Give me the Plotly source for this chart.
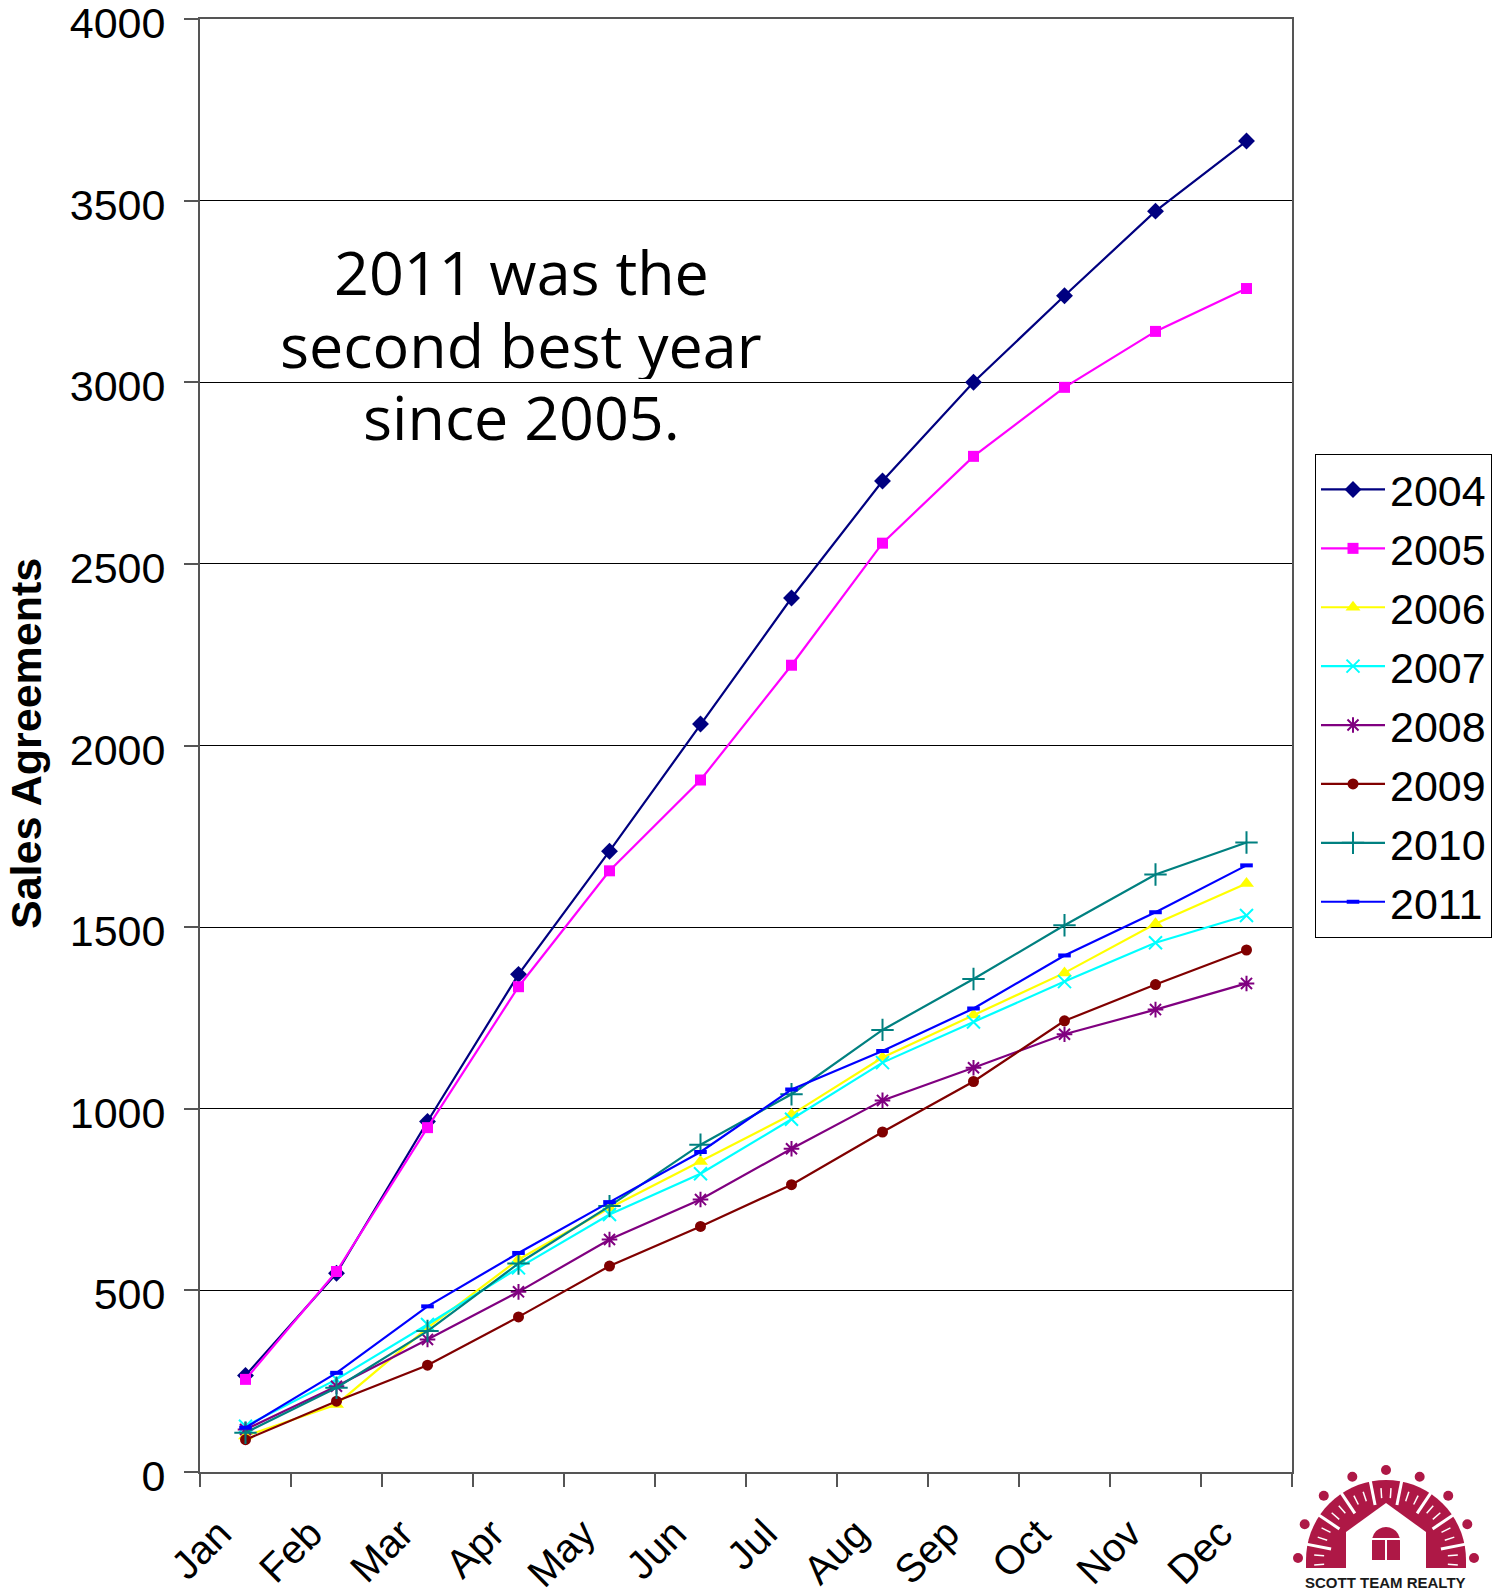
import math
import plotly.graph_objects as go

# ---------------- data ----------------
months = ["Jan", "Feb", "Mar", "Apr", "May", "Jun", "Jul", "Aug", "Sep", "Oct", "Nov", "Dec"]

years = ["2004", "2005", "2006", "2007", "2008", "2009", "2010", "2011"]

s2004 = [266, 547, 965, 1370, 1709, 2059, 2406, 2728, 3000, 3238, 3471, 3664]
s2005 = [255, 552, 948, 1336, 1655, 1905, 2221, 2557, 2796, 2986, 3140, 3258]
s2006 = [99, 186, 397, 585, 727, 855, 984, 1141, 1258, 1374, 1509, 1620]
s2007 = [126, 255, 406, 562, 709, 821, 971, 1127, 1239, 1350, 1457, 1532]
s2008 = [117, 236, 365, 496, 640, 750, 890, 1023, 1113, 1205, 1273, 1345]
s2009 = [89, 195, 294, 427, 567, 676, 791, 936, 1075, 1242, 1342, 1437]
s2010 = [108, 232, 388, 574, 732, 901, 1040, 1217, 1357, 1505, 1645, 1733]
s2011 = [122, 273, 456, 603, 743, 881, 1053, 1159, 1276, 1422, 1541, 1670]

y_ticks = [0, 500, 1000, 1500, 2000, 2500, 3000, 3500, 4000]

annotation_lines = ["2011 was the", "second best year", "since 2005."]
y_title = "Sales Agreements"
logo_text = "SCOTT TEAM REALTY"

# ---------------- styles ----------------
series = [
    (s2004, "#000080", dict(symbol="diamond", size=13)),
    (s2005, "#FF00FF", dict(symbol="square", size=11)),
    (s2006, "#FFFF00", dict(symbol="triangle-up", size=13)),
    (s2007, "#00FFFF", dict(symbol="x-thin-open", size=13, line=dict(width=2, color="#00FFFF"))),
    (s2008, "#800080", dict(symbol="asterisk-open", size=13, line=dict(width=2, color="#800080"))),
    (s2009, "#800000", dict(symbol="circle", size=11)),
    (s2010, "#008080", dict(symbol="cross-thin-open", size=16, line=dict(width=2, color="#008080"))),
    (s2011, "#0000FF", dict(symbol="line-ew-open", size=9, line=dict(width=4, color="#0000FF"))),
]

W, H = 1507, 1595
ML, MR, MT, MB = 200, 215, 19, 123
PW = W - ML - MR
PH = H - MT - MB


def px2paper(x, y):
    return (x - ML) / PW, (H - MB - y) / PH


fig = go.Figure()
for (vals, color, mk), name in zip(series, years):
    m = dict(color=color)
    m.update(mk)
    fig.add_trace(go.Scatter(
        x=months, y=vals, name=name, mode="lines+markers",
        line=dict(color=color, width=2.2), marker=m, legendgroup=name,
    ))

axis_font = dict(family="Liberation Sans, Arial, sans-serif", size=43, color="black")
xfont = dict(family="Liberation Sans, Arial, sans-serif", size=40, color="black")

fig.update_layout(
    template="none",
    width=W, height=H, autosize=False,
    margin=dict(l=ML, r=MR, t=MT, b=MB, pad=0),
    paper_bgcolor="white", plot_bgcolor="white",
    showlegend=True,
    legend=dict(
        x=px2paper(1315, 0)[0], y=px2paper(0, 454)[1], xanchor="left", yanchor="top",
        bordercolor="black", borderwidth=1, bgcolor="white",
        font=axis_font, tracegroupgap=0, itemwidth=64,
    ),
    xaxis=dict(
        type="category", categoryorder="array", categoryarray=months, automargin=False,
        tickson="boundaries", ticks="outside", ticklen=13, tickcolor="#555", tickwidth=1.5,
        showline=True, linecolor="#555", linewidth=2, mirror=True,
        showgrid=False, zeroline=False, tickangle=-45, tickfont=xfont,
        ticklabelstandoff=20, ticklabelshift=-26, ticklabeloverflow="allow",
        range=[-0.5, 11.5],
    ),
    yaxis=dict(
        range=[0, 4000], tickvals=y_ticks, ticks="outside", ticklen=14, tickcolor="#555", tickwidth=1.5,
        showline=True, linecolor="#555", linewidth=2, mirror=True, automargin=False,
        showgrid=True, gridcolor="black", gridwidth=1.2, zeroline=False,
        tickfont=axis_font, ticklabelstandoff=10, ticklabelshift=4, ticklabeloverflow="allow",
    ),
)

# y axis title
tx, ty = px2paper(26, 744)
fig.add_annotation(
    text=y_title, xref="paper", yref="paper", x=tx, y=ty, textangle=-90,
    showarrow=False, xanchor="center", yanchor="middle",
    font=dict(family="Liberation Sans, Arial, sans-serif", size=43, color="black", weight="bold"),
)

# callout text, one line per annotation to match line spacing
for line, cy in zip(annotation_lines, [271, 344, 416]):
    ax, ay = px2paper(521, cy)
    fig.add_annotation(
        text=line, xref="paper", yref="paper", x=ax, y=ay, height=70, valign="middle",
        showarrow=False, xanchor="center", yanchor="middle", align="center",
        font=dict(family="Open Sans, sans-serif", size=61, color="black", weight=500),
    )

# ---------------- logo (decorative shapes) ----------------
CRIMSON = "#AE1846"
lx, ly = px2paper(1386, 1560)


def lshape(**kw):
    base = dict(xref="paper", yref="paper", xsizemode="pixel", ysizemode="pixel",
                xanchor=lx, yanchor=ly, layer="above")
    base.update(kw)
    fig.add_shape(**base)


def poly(pts):
    return "M " + " L ".join(f"{x:.1f},{y:.1f}" for x, y in pts) + " Z"


# dome of figures
dome = [(80, -8)]
for k in range(0, 181, 5):
    t = math.radians(k)
    dome.append((80 * math.cos(t), 80 * math.sin(t)))
dome.append((-80, -8))
lshape(type="path", path=poly(dome), fillcolor=CRIMSON, line=dict(width=0))

# separations between figures
for k in range(8):
    t = math.radians(11.25 + 22.5 * k)
    x0, y0 = 56 * math.cos(t), 56 * math.sin(t)
    x1, y1 = 84 * math.cos(t), 84 * math.sin(t)
    lshape(type="line", x0=x0, y0=y0, x1=x1, y1=y1, line=dict(color="white", width=3))

# arms (short white strokes inside each figure)
for k in range(9):
    t = math.radians(22.5 * k)
    for off in (-4, 4):
        tt = t + math.radians(off)
        x0, y0 = 62 * math.cos(tt), 62 * math.sin(tt)
        x1, y1 = 72 * math.cos(tt), 72 * math.sin(tt)
        lshape(type="line", x0=x0, y0=y0, x1=x1, y1=y1, line=dict(color="white", width=1.5))

# heads
for k in range(9):
    t = math.radians(22.5 * k)
    cx, cy = 88 * math.cos(t), 88 * math.sin(t) + 2
    lshape(type="circle", x0=cx - 5, x1=cx + 5, y0=cy - 5, y1=cy + 5,
           fillcolor=CRIMSON, line=dict(width=0))

# house cut-out
lshape(type="path", path=poly([(-40, -9), (-40, 28), (0, 57), (40, 28), (40, -9)]),
       fillcolor="white", line=dict(width=0))
# window (arched)
win = [(-14, 0)] + [(-14 * math.cos(math.radians(a)), 19 + 14 * math.sin(math.radians(a)))
                    for a in range(0, 181, 15)] + [(14, 0)]
lshape(type="path", path=poly(win), fillcolor=CRIMSON, line=dict(width=0))
lshape(type="line", x0=0, y0=0, x1=0, y1=21, line=dict(color="white", width=2))
lshape(type="line", x0=-14, y0=21, x1=14, y1=21, line=dict(color="white", width=2))

lt = px2paper(1385, 1582)
fig.add_annotation(
    text=logo_text, xref="paper", yref="paper", x=lt[0], y=lt[1], showarrow=False,
    xanchor="center", yanchor="middle",
    font=dict(family="Liberation Sans, Arial, sans-serif", size=15, color="#1a1a1a", weight="bold"),
)

fig.write_html("out.html")
